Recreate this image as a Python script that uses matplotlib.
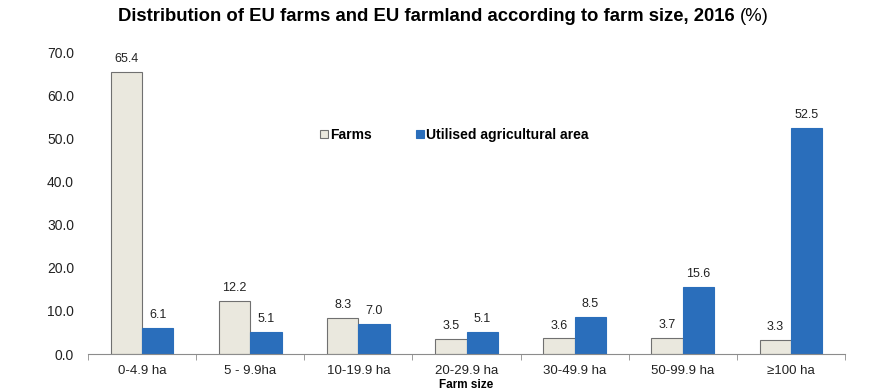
import numpy as np
import matplotlib.pyplot as plt

plt.rcParams['font.family'] = ['Liberation Sans', 'DejaVu Sans']

categories = ['0-4.9 ha', '5 - 9.9ha', '10-19.9 ha', '20-29.9 ha', '30-49.9 ha', '50-99.9 ha', '≥100 ha']
farms = [65.4, 12.2, 8.3, 3.5, 3.6, 3.7, 3.3]
uaa = [6.1, 5.1, 7.0, 5.1, 8.5, 15.6, 52.5]

fig = plt.figure(figsize=(8.94, 3.9), dpi=100)
ax = fig.add_axes([88 / 894, 1 - 354 / 390, (845 - 88) / 894, (354 - 52) / 390])

x = np.arange(len(categories))
w = 0.29
b1 = ax.bar(x - w / 2, farms, w, color='#EAE8DE', edgecolor='#707070', linewidth=0.8, label='Farms')
b2 = ax.bar(x + w / 2, uaa, w, color='#2A6EBB', edgecolor='#2A6EBB', linewidth=0.8, label='Utilised agricultural area')

for rect, v in zip(list(b1) + list(b2), farms + uaa):
    ax.text(rect.get_x() + rect.get_width() / 2, v + 1.6, '%.1f' % v,
            ha='center', va='bottom', fontsize=9, color='#222222')

ax.set_xlim(-0.5, len(categories) - 0.5)
ax.set_ylim(0, 70)
ax.set_yticks(np.arange(0, 71, 10))
ax.set_yticklabels(['%.1f' % t for t in np.arange(0, 71, 10)], fontsize=10, color='#222222')
ax.set_xticks(x)
ax.set_xticklabels(categories, fontsize=9.5, color='#222222')
ax.set_xticks(np.arange(-0.5, len(categories)), minor=True)
ax.tick_params(axis='x', which='major', length=0, pad=8)
ax.tick_params(axis='x', which='minor', length=4, color='#8C8C8C', direction='out')
ax.tick_params(axis='y', length=0, pad=10)
for s in ['top', 'right', 'left']:
    ax.spines[s].set_visible(False)
ax.spines['bottom'].set_color('#8C8C8C')

ax.set_xlabel('Farm size', fontsize=8.5, fontweight='bold', labelpad=1)

leg = ax.legend(loc='upper left', bbox_to_anchor=(0.29, 0.79), ncol=2, frameon=False,
                fontsize=10, handlelength=0.55, handleheight=0.55, handletextpad=0.15, columnspacing=3.2)
for t in leg.get_texts():
    t.set_fontweight('bold')

fig.text(0.828, 0.945, 'Distribution of EU farms and EU farmland according to farm size, 2016 ',
         ha='right', fontsize=13.3, fontweight='bold')
fig.text(0.828, 0.945, '(%)', ha='left', fontsize=13.3)

fig.savefig('out.png', dpi=100)
